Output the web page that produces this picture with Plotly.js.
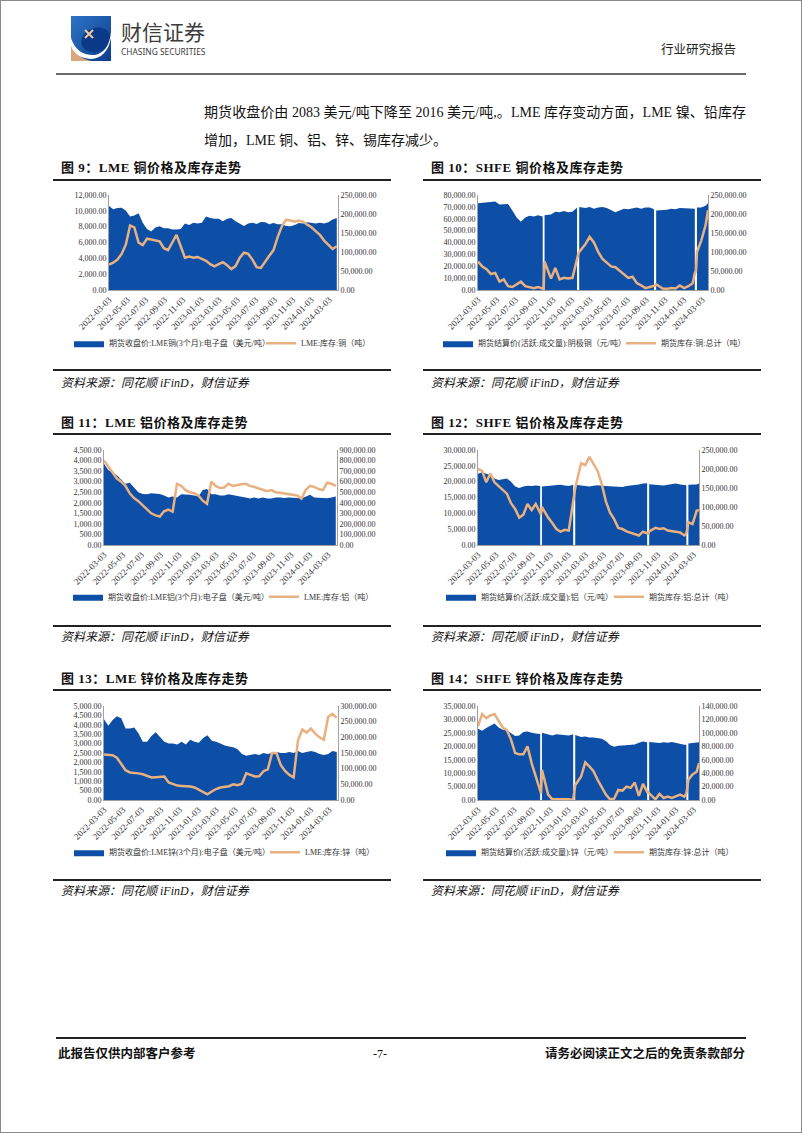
<!DOCTYPE html>
<html>
<head>
<meta charset="utf-8">
<script src="https://cdn.plot.ly/plotly-3.0.1.min.js"></script>
<style>
  body { margin: 0; background: #fff; }
  #page { position: relative; width: 802px; height: 1133px; box-sizing: border-box; border: 1px solid #8a8a8a; overflow: hidden;
          font-family: "Liberation Serif", "Noto Sans CJK SC", serif; color: #111; }
  .abs { position: absolute; white-space: nowrap; }
  .ttl { font-size: 13px; font-weight: bold; letter-spacing: 0.5px; line-height: 16px; }
  .src { font-size: 12px; font-style: italic; line-height: 16px; }
  .rule { position: absolute; height: 1.5px; background: #222; }
  .chart { position: absolute; width: 345px; height: 180px; }
</style>
</head>
<body>
<div id="page">
  <svg class="abs" style="left:70px;top:15px" width="40" height="45" viewBox="0 0 40 45">
    <defs>
      <linearGradient id="g" x1="0" y1="0" x2="1" y2="1">
        <stop offset="0" stop-color="#2d74c6"/><stop offset="1" stop-color="#0d3d8c"/>
      </linearGradient>
    </defs>
    <rect width="40" height="45" fill="url(#g)"/>
    <ellipse cx="25" cy="24" rx="15" ry="12" fill="#0b3a88" transform="rotate(-20 25 24)"/>
    <path d="M0,30 Q6,42 20,45 L0,45 Z" fill="#d9a77b"/>
    <path d="M0,22 Q6,40 24,39 Q38,36 40,16 L40,22 Q36,42 20,43 Q4,42 0,30 Z" fill="#fff"/>
    <path d="M14,14 L22,22 M22,14 L14,22" stroke="#f2c9a0" stroke-width="2"/>
  </svg>
  <div class="abs" style="left:120px;top:18px;font-family:'Noto Sans CJK SC';font-size:21px;color:#3c3c3c;line-height:24px;">财信证券</div>
  <div class="abs" style="left:120px;top:46px;font-family:'Noto Sans';font-size:8.4px;color:#3c3c3c;line-height:10px;">CHASING SECURITIES</div>
  <div class="abs" style="left:660px;top:40px;font-family:'Noto Sans CJK SC';font-size:12.5px;color:#222;line-height:16px;">行业研究报告</div>
  <div class="abs" style="left:55px;top:72px;width:690px;height:2px;background:#6a6a6a;"></div>

  <div class="abs" style="left:203px;top:102px;width:542px;font-size:14px;line-height:20px;text-align:justify;text-align-last:justify;">期货收盘价由 2083 美元/吨下降至 2016 美元/吨,。LME 库存变动方面，LME 镍、铅库存</div>
  <div class="abs" style="left:203px;top:130px;font-size:14px;line-height:20px;">增加，LME 铜、铝、锌、锡库存减少。</div>

  <div class="rule" style="left:55px;top:1036px;width:690px;height:2px;"></div>
  <div class="abs" style="left:57px;top:1045px;font-size:12.5px;font-weight:bold;line-height:16px;">此报告仅供内部客户参考</div>
  <div class="abs" style="left:372px;top:1045px;font-size:12px;line-height:16px;">-7-</div>
  <div class="abs" style="right:56px;top:1045px;font-size:12.5px;font-weight:bold;line-height:16px;">请务必阅读正文之后的免责条款部分</div>

  <div id="c9" class="chart" style="left:52px;top:185px"></div>
  <div id="c10" class="chart" style="left:420px;top:185px"></div>
  <div id="c11" class="chart" style="left:52px;top:440px"></div>
  <div id="c12" class="chart" style="left:420px;top:440px"></div>
  <div id="c13" class="chart" style="left:52px;top:695px"></div>
  <div id="c14" class="chart" style="left:420px;top:695px"></div>
</div>
<script>
// 日期：LME 双周取点；SHFE 在节假日处插入空值形成断口
const lmeDates = ['2022-03-03','2022-03-17','2022-03-31','2022-04-14','2022-04-28','2022-05-12','2022-05-26','2022-06-09','2022-06-23','2022-07-07',
  '2022-07-21','2022-08-04','2022-08-18','2022-09-01','2022-09-15','2022-09-29','2022-10-13','2022-10-27','2022-11-10','2022-11-24',
  '2022-12-08','2022-12-22','2023-01-05','2023-01-19','2023-02-02','2023-02-16','2023-03-02','2023-03-16','2023-03-30','2023-04-13',
  '2023-04-27','2023-05-11','2023-05-25','2023-06-08','2023-06-22','2023-07-06','2023-07-20','2023-08-03','2023-08-17','2023-08-31',
  '2023-09-14','2023-09-28','2023-10-12','2023-10-26','2023-11-09','2023-11-23','2023-12-07','2023-12-21','2024-01-04','2024-01-18',
  '2024-02-01','2024-02-15','2024-02-29','2024-03-14','2024-03-28'];
const shfeDates = ['2022-03-03','2022-03-17','2022-03-31','2022-04-14','2022-04-28','2022-05-12','2022-05-26','2022-06-09','2022-06-23','2022-07-07',
  '2022-07-21','2022-08-04','2022-08-18','2022-09-01','2022-09-15','2022-09-30','2022-10-03','2022-10-06','2022-10-27','2022-11-10',
  '2022-11-24','2022-12-08','2022-12-22','2023-01-05','2023-01-20','2023-01-24','2023-01-27','2023-02-16','2023-03-02','2023-03-16',
  '2023-03-30','2023-04-13','2023-04-27','2023-05-11','2023-05-25','2023-06-08','2023-06-22','2023-07-06','2023-07-20','2023-08-03',
  '2023-08-17','2023-08-31','2023-09-14','2023-09-28','2023-10-02','2023-10-05','2023-10-26','2023-11-09','2023-11-23','2023-12-07',
  '2023-12-21','2024-01-04','2024-01-18','2024-02-01','2024-02-08','2024-02-12','2024-02-15','2024-02-29','2024-03-14','2024-03-22'];

// 图9 LME铜
const cuLmePrice = [10600,10200,10350,10400,10000,9300,9400,9700,8500,7700, 7400,7900,8050,7800,7800,7650,7650,7700,8400,8200,
  8500,8400,8500,9300,9100,9000,9000,8700,9000,9100, 8700,8400,8100,8400,8500,8350,8600,8550,8300,8450,
  8300,8300,8100,8050,8200,8450,8400,8550,8450,8400, 8500,8400,8550,8900,9100];
const cuLmeStock = [67000,72000,80000,95000,120000,170000,165000,125000,118000,135000, 133000,130000,128000,110000,105000,125000,145000,115000,85000,88000,
  85000,87000,82000,77000,68000,62000,68000,73000,65000,55000, 63000,85000,98000,95000,80000,60000,58000,75000,90000,105000,
  140000,168000,185000,183000,180000,182000,180000,172000,165000,155000, 145000,130000,118000,108000,115000];
// 图10 SHFE铜
const cuShfePrice = [73000,73500,73500,74000,74500,72000,72000,72500,67000,61000, 57500,61000,62500,62000,63000,62000,null,63000,63500,66000,
  65500,66500,65500,66000,69500,null,70000,69000,70000,68500, 69500,70000,69000,67000,65500,67000,68500,68000,69000,69500,
  68500,69500,69500,68000,null,67000,67500,67500,68500,68000, 69000,69000,68500,69000,68500,null,69500,69500,71000,73000];
const cuShfeStock = [75000,62000,55000,42000,45000,22000,28000,10000,8000,15000, 22000,10000,8000,5000,8000,3000,3000,75000,30000,58000,
  28000,32000,30000,32000,88000,95000,100000,120000,140000,125000, 100000,82000,72000,62000,60000,50000,40000,32000,35000,18000,
  12000,5000,8000,12000,12000,15000,4000,3000,5000,4000, 12000,5000,10000,18000,45000,50000,100000,130000,170000,210000];
// 图11 LME铝
const alLmePrice = [3850,3550,3450,3300,3100,2900,2950,2700,2500,2420, 2400,2450,2450,2420,2350,2250,2300,2250,2400,2400,
  2380,2350,2300,2600,2650,2400,2400,2350,2350,2400, 2350,2300,2280,2250,2200,2250,2200,2250,2200,2200,
  2250,2250,2230,2250,2250,2230,2200,2280,2380,2250, 2230,2220,2220,2250,2300];
const alLmeStock = [800000,740000,680000,630000,600000,560000,490000,445000,415000,375000, 335000,300000,280000,270000,320000,335000,315000,580000,560000,520000,
  500000,490000,470000,420000,390000,600000,560000,540000,545000,580000, 560000,570000,575000,580000,560000,550000,535000,520000,510000,520000,
  500000,495000,490000,485000,475000,470000,440000,520000,560000,550000, 530000,520000,590000,580000,560000];
// 图12 SHFE铝
const alShfePrice = [22500,23000,22500,22000,21000,20500,20800,21000,20000,18500, 18000,18500,18700,18600,18800,18600,null,18500,18600,18900,
  18800,19000,18800,18600,19000,null,19000,18800,18700,18500, 18700,18900,18700,18600,18400,18300,18400,18300,18600,18700,
  18900,19100,19400,19500,null,19200,19000,19100,18800,19000, 19200,19400,19100,18900,18900,null,19000,19000,19100,19400];
const alShfeStock = [200000,195000,165000,188000,165000,155000,145000,135000,110000,95000, 72000,80000,108000,92000,108000,85000,80000,100000,72000,58000,
  42000,35000,40000,38000,110000,130000,150000,215000,210000,232000, 212000,195000,160000,115000,85000,68000,45000,42000,36000,32000,
  27000,25000,35000,30000,30000,36000,45000,42000,44000,38000, 36000,36000,33000,25000,30000,45000,60000,55000,90000,92000];
// 图13 LME锌
const znLmePrice = [4300,3950,4250,4450,4350,3800,3800,3850,3550,3100, 3100,3400,3600,3350,3100,3000,3000,2950,3100,2950,
  3200,3100,3050,3300,3450,3150,3100,3000,2900,2850, 2800,2700,2450,2350,2400,2450,2400,2500,2450,2500,
  2550,2500,2500,2550,2500,2600,2500,2550,2600,2550, 2450,2400,2450,2600,2550];
const znLmeStock = [145000,145000,143000,135000,115000,95000,88000,87000,85000,82000, 76000,72000,73000,74000,75000,56000,50000,46000,45000,45000,
  43000,40000,33000,24000,18000,27000,35000,40000,42000,44000, 50000,47000,52000,85000,80000,75000,76000,92000,98000,150000,
  150000,112000,93000,80000,72000,190000,225000,215000,228000,212000, 200000,192000,265000,275000,262000];
// 图14 SHFE锌
const znShfePrice = [26500,25800,26800,27800,28500,27000,26200,26000,25000,23800, 24000,25300,25500,25000,24800,24600,null,25000,24300,24000,
  24500,24400,24100,24000,24500,null,24200,23500,23600,23300, 23300,23000,22800,22000,20500,19800,20200,20300,20500,20600,
  20700,21300,21800,21500,null,21600,21500,21200,21500,21300, 21600,21200,20800,20600,20600,null,21000,21300,21500,21500];
const znShfeStock = [110000,128000,122000,126000,128000,118000,108000,104000,90000,70000, 68000,68000,80000,55000,35000,15000,10000,45000,8000,1000,
  1000,2000,1000,1000,0,10000,22000,35000,56000,50000, 43000,30000,20000,8000,1000,2000,15000,14000,20000,18000,
  26000,6000,24000,12000,12000,10000,1000,9000,3000,5000, 3000,5000,8000,5000,10000,20000,30000,38000,42000,55000];

const titles = ['图 9：LME 铜价格及库存走势','图 10：SHFE 铜价格及库存走势','图 11：LME 铝价格及库存走势',
  '图 12：SHFE 铝价格及库存走势','图 13：LME 锌价格及库存走势','图 14：SHFE 锌价格及库存走势'];
const source = '资料来源：同花顺 iFinD，财信证券';

// left: 图表容器左边；leg: 两个图例文字起点（页面像素）
const charts = [
  {id:'c9', left:52, x:lmeDates, p:cuLmePrice, s:cuLmeStock, names:['期货收盘价:LME铜(3个月):电子盘（美元/吨）','LME:库存:铜（吨）'],
   yMax:12000, yStep:2000, y2Max:250000, y2Step:50000, end:'2024-04-01', m:{l:56,r:60,t:9,b:71}, legY:-0.56, leg:[108,300]},
  {id:'c10', left:420, x:shfeDates, p:cuShfePrice, s:cuShfeStock, names:['期货结算价(活跃:成交量):阴极铜（元/吨）','期货库存:铜:总计（吨）'],
   yMax:80000, yStep:10000, y2Max:250000, y2Step:50000, end:'2024-03-22', m:{l:57,r:58,t:9,b:71}, legY:-0.56, leg:[477,660]},
  {id:'c11', left:52, x:lmeDates, p:alLmePrice, s:alLmeStock, names:['期货收盘价:LME铝(3个月):电子盘（美元/吨）','LME:库存:铝（吨）'],
   yMax:4500, yStep:500, y2Max:900000, y2Step:100000, end:'2024-04-01', m:{l:51,r:61,t:9,b:70}, legY:-0.545, leg:[107,303]},
  {id:'c12', left:420, x:shfeDates, p:alShfePrice, s:alShfeStock, names:['期货结算价(活跃:成交量):铝（元/吨）','期货库存:铝:总计（吨）'],
   yMax:30000, yStep:5000, y2Max:250000, y2Step:50000, end:'2024-03-22', m:{l:57,r:67,t:9,b:71}, legY:-0.545, leg:[480,648]},
  {id:'c13', left:52, x:lmeDates, p:znLmePrice, s:znLmeStock, names:['期货收盘价:LME锌(3个月):电子盘（美元/吨）','LME:库存:锌（吨）'],
   yMax:5000, yStep:500, y2Max:300000, y2Step:50000, end:'2024-04-01', m:{l:51,r:60,t:10,b:71}, legY:-0.556, leg:[108,304]},
  {id:'c14', left:420, x:shfeDates, p:znShfePrice, s:znShfeStock, names:['期货结算价(活跃:成交量):锌（元/吨）','期货库存:锌:总计（吨）'],
   yMax:35000, yStep:5000, y2Max:140000, y2Step:20000, end:'2024-03-22', m:{l:57,r:67,t:10,b:71}, legY:-0.556, leg:[480,648]}
];

// 标题、分隔线、资料来源
const page = document.getElementById('page');
const rows = [{t:159, l:178, b:368, s:374}, {t:414, l:432, b:624, s:628}, {t:670, l:688, b:878, s:882}];
rows.forEach((r, i) => {
  [[52, 60], [422, 430]].forEach((c, j) => {
    const k = i * 2 + j;
    page.insertAdjacentHTML('beforeend',
      `<div class="abs ttl" style="left:${c[1]}px;top:${r.t}px">${titles[k]}</div>` +
      `<div class="rule" style="left:${c[0]}px;top:${r.l}px;width:338px"></div>` +
      `<div class="rule" style="left:${c[0]}px;top:${r.b}px;width:338px"></div>` +
      `<div class="abs src" style="left:${c[1]}px;top:${r.s}px">${source}</div>`);
  });
});

const fam = '"Liberation Serif", "Noto Sans CJK SC", serif';
const blue = '#0d4ea6', tan = '#e9b080';

// 把带空值的序列拆成几段，每段单独填充，节假日处留白
function splitGaps(x, y) {
  const out = [];
  let sx = [], sy = [];
  y.forEach((v, i) => {
    if (v === null) { if (sx.length) out.push([sx, sy]); sx = []; sy = []; }
    else { sx.push(x[i]); sy.push(v); }
  });
  if (sx.length) out.push([sx, sy]);
  return out;
}

charts.forEach(c => {
  const plotL = c.left + c.m.l;
  const plotW = 345 - c.m.l - c.m.r;
  const traces = splitGaps(c.x, c.p).map((seg, i) => ({
    x: seg[0], y: seg[1], name: c.names[0], type: 'scatter', mode: 'lines', fill: 'tozeroy',
    fillcolor: blue, line: {color: blue, width: 0}, legendgroup: 'px', showlegend: i === 0, legend: 'legend'
  }));
  traces.push({x: c.x, y: c.s, name: c.names[1], type: 'scatter', mode: 'lines', yaxis: 'y2',
    line: {color: tan, width: 2.5}, legend: 'legend2'});

  const legBase = {orientation: 'h', xanchor: 'left', yanchor: 'middle', y: c.legY,
                   font: {family: fam, size: 8, color: '#333'}, itemwidth: 30, bgcolor: 'rgba(0,0,0,0)'};
  const layout = {
    width: 345, height: 180,
    margin: Object.assign({pad: 0}, c.m),
    paper_bgcolor: 'rgba(0,0,0,0)', plot_bgcolor: 'rgba(0,0,0,0)',
    font: {family: fam, size: 8, color: '#333'},
    showlegend: true,
    legend: Object.assign({}, legBase, {x: (c.leg[0] - 40 - plotL) / plotW}),
    legend2: Object.assign({}, legBase, {x: (c.leg[1] - 40 - plotL) / plotW}),
    xaxis: {type: 'date', range: ['2022-03-03', c.end], tick0: '2022-03-03', dtick: 'M2',
            tickformat: '%Y-%m-%d', tickangle: -45, tickfont: {size: 9},
            showline: true, linecolor: '#a0a0a0', linewidth: 1, ticks: '', showgrid: false, zeroline: false},
    yaxis: {range: [0, c.yMax], dtick: c.yStep, tickformat: ',.2f', showgrid: false, zeroline: false,
            showline: true, linecolor: '#a0a0a0', ticks: '', tickfont: {size: 8}},
    yaxis2: {overlaying: 'y', side: 'right', range: [0, c.y2Max], dtick: c.y2Step, tickformat: ',.2f',
             showgrid: false, zeroline: false, showline: true, linecolor: '#a0a0a0', ticks: '', tickfont: {size: 8}}
  };
  Plotly.newPlot(c.id, traces, layout, {staticPlot: true, displayModeBar: false});
});
</script>
</body>
</html>
